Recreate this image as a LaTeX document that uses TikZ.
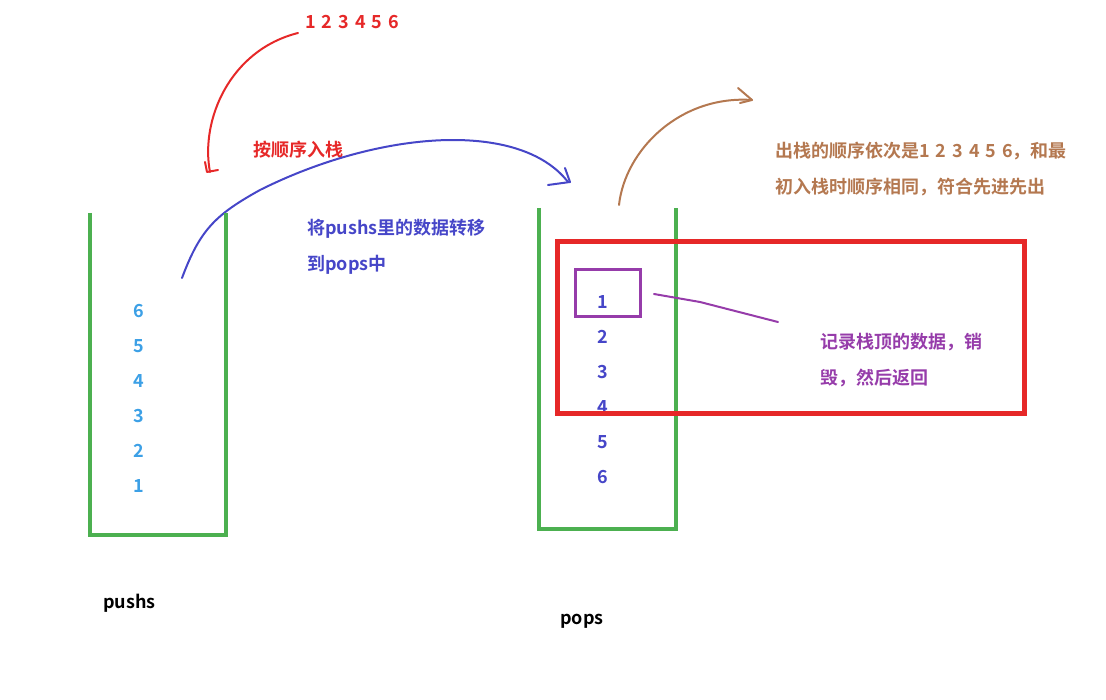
\documentclass[tikz,border=0pt]{standalone}
\usepackage{fontspec}
\setmainfont{Noto Sans CJK SC}[BoldFont={Noto Sans CJK SC Bold}]
\begin{document}
\begin{tikzpicture}[x=1pt,y=-1pt,
  lbl/.style={font=\bfseries\fontsize{18}{20}\selectfont,inner sep=0},
  stk/.style={draw={rgb,255:red,76;green,176;blue,80},line width=4},
  pen/.style={line width=2,line cap=round,line join=round}]
\useasboundingbox (0,0) rectangle (1106,700);
\definecolor{myred}{RGB}{230,40,40}
\definecolor{myblue}{RGB}{70,70,200}
\definecolor{lblue}{RGB}{60,160,230}
\definecolor{mypur}{RGB}{150,60,170}
\definecolor{mybrown}{RGB}{180,120,80}
% red
\node[lbl,text=myred,anchor=west] (seq) at (305,22) {1\,\,2\,\,3\,\,4\,\,5\,\,6};
\coordinate (r1) at (298,33);
\coordinate (r2) at (210,172);
\draw[pen,myred] (r1) .. controls (230,50) and (200,120) .. (r2);
\draw[pen,myred] (205,162) -- (207,172) -- (218,170);
\node[lbl,text=myred,anchor=west] (push) at (253,150) {按顺序入栈};
% blue
\coordinate (b1) at (182,278);
\coordinate (b2) at (568,182);
\draw[pen,myblue] (b1) .. controls (200,230) and (215,215) .. (260,190) .. controls (380,130) and (520,120) .. (b2);
\draw[pen,myblue] (548,185) -- (570,182) -- (565,168);
\node[lbl,text=myblue,anchor=west] (t1) at (307,229) {将pushs里的数据转移};
\node[lbl,text=myblue,anchor=west] (t2) at (307,265) {到pops中};
% stacks
\draw[stk] (90,213) -- (90,535) -- (226,535) -- (226,213);
\draw[stk] (539,208) -- (539,529) -- (676,529) -- (676,208);
\foreach \n [count=\i] in {6,5,4,3,2,1}
  \node[lbl,text=lblue] (p\n) at (139,276+35*\i) {\n};
\foreach \n in {1,...,6}
  \node[lbl,text=myblue] (q\n) at (603,267+35*\n) {\n};
\node[lbl,anchor=west] (pushs) at (103,603) {pushs};
\node[lbl,anchor=west] (pops) at (560,621) {pops};
% red box
\draw[myred,line width=5] (557,242) rectangle (1024,414);
% purple
\draw[mypur,line width=3] (575,270) rectangle (640,317);
\coordinate (m1) at (654,294);
\coordinate (m2) at (778,322);
\draw[pen,mypur] (m1) -- (700,302) -- (m2);
\node[lbl,text=mypur,anchor=west] (n1) at (820,342) {记录栈顶的数据，销};
\node[lbl,text=mypur,anchor=west] (n2) at (820,378) {毁，然后返回};
% brown
\coordinate (c1) at (619,205);
\coordinate (c2) at (752,100);
\draw[pen,mybrown] (c1) .. controls (625,150) and (680,95) .. (c2);
\draw[pen,mybrown] (738,88) -- (752,100) -- (740,103);
\node[lbl,text=mybrown,anchor=west] (o1) at (775,151) {出栈的顺序依次是1\,\,2\,\,3\,\,4\,\,5\,\,6，和最};
\node[lbl,text=mybrown,anchor=west] (o2) at (775,187) {初入栈时顺序相同，符合先进先出};
\end{tikzpicture}
\end{document}
